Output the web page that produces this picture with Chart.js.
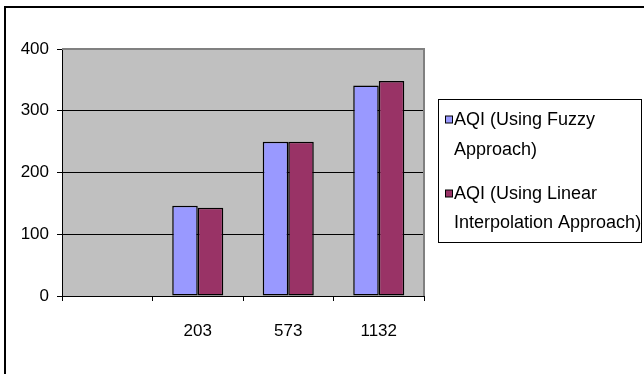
<!DOCTYPE html>
<html>
<head>
<meta charset="utf-8">
<script src="https://cdn.jsdelivr.net/npm/chart.js@4/dist/chart.umd.min.js"></script>
<style>
  html, body { margin: 0; padding: 0; background: #fff; }
  #wrap { position: relative; width: 644px; height: 374px; }
</style>
</head>
<body>
<div id="wrap"><canvas id="c" width="644" height="374"></canvas></div>
<script>
const categories = ['', '203', '573', '1132'];
const fuzzyAQI = [null, 146, 250, 341];
const linearAQI = [null, 143, 250, 348];
const seriesNames = ['AQI (Using Fuzzy Approach)', 'AQI (Using Linear Interpolation Approach)'];
const legendLines = [['AQI (Using Fuzzy', 'Approach)'], ['AQI (Using Linear', 'Interpolation Approach)']];
const yMin = 0, yMax = 400, yStep = 100;

const FONT = "'Liberation Sans', Arial, sans-serif";

const decor = {
  id: 'decor',
  beforeDraw(chart) {
    const { ctx, chartArea: a } = chart;
    ctx.save();
    ctx.fillStyle = '#fff';
    ctx.fillRect(0, 0, chart.width, chart.height);
    ctx.fillStyle = '#C0C0C0';
    ctx.fillRect(a.left, a.top, a.right - a.left, a.bottom - a.top);
    ctx.restore();
  },
  afterDraw(chart) {
    const { ctx, chartArea: a } = chart;
    ctx.save();
    ctx.strokeStyle = '#808080';
    ctx.lineWidth = 2;
    ctx.beginPath();
    ctx.moveTo(a.left, a.top);
    ctx.lineTo(a.right, a.top);
    ctx.lineTo(a.right, a.bottom);
    ctx.stroke();
    ctx.strokeStyle = '#000';
    ctx.lineWidth = 2;
    ctx.strokeRect(5, 7, 800, 500);
    const bx = 438.5, by = 99.5, bw = 203, bh = 143;
    ctx.fillStyle = '#fff';
    ctx.fillRect(bx, by, bw, bh);
    ctx.strokeStyle = '#000';
    ctx.lineWidth = 1;
    ctx.strokeRect(bx, by, bw, bh);
    const baselines = [[125, 155], [199, 228]];
    ctx.font = '18px ' + FONT;
    ctx.textBaseline = 'alphabetic';
    ctx.textAlign = 'left';
    chart.data.datasets.forEach((ds, i) => {
      const lines = legendLines[i];
      ctx.fillStyle = ds.backgroundColor;
      const my = baselines[i][0] - 9;
      ctx.fillRect(445.5, my, 7, 7);
      ctx.strokeStyle = '#000';
      ctx.strokeRect(445.5, my, 7, 7);
      ctx.fillStyle = '#000';
      lines.forEach((t, j) => ctx.fillText(t, 454, baselines[i][j]));
    });
    ctx.restore();
  }
};

new Chart(document.getElementById('c'), {
  type: 'bar',
  data: {
    labels: categories,
    datasets: [
      { label: seriesNames[0], data: fuzzyAQI, backgroundColor: '#9999FF', borderColor: '#000', borderWidth: 1.5, borderSkipped: false, categoryPercentage: 0.564, barPercentage: 1 },
      { label: seriesNames[1], data: linearAQI, backgroundColor: '#993366', borderColor: '#000', borderWidth: 1.5, borderSkipped: false, categoryPercentage: 0.564, barPercentage: 1 }
    ]
  },
  options: {
    responsive: false,
    animation: false,
    devicePixelRatio: 1,
    layout: { padding: { top: 49, right: 220, bottom: 0, left: 0 } },
    plugins: { legend: { display: false }, tooltip: { enabled: false } },
    scales: {
      x: {
        grid: { display: true, drawOnChartArea: false, drawTicks: true, tickLength: 5, color: '#000', offset: true },
        border: { color: '#000', width: 1 },
        ticks: { color: '#000', font: { family: FONT, size: 17 }, padding: 20, maxRotation: 0, autoSkip: false },
        afterFit(s) { s.height = 78; }
      },
      y: {
        min: yMin, max: yMax,
        grid: { color: '#000', tickLength: 5, drawTicks: true },
        border: { color: '#000', width: 1 },
        ticks: { stepSize: yStep, color: '#000', font: { family: FONT, size: 17 }, padding: 8 },
        afterFit(s) { s.width = 62; }
      }
    }
  },
  plugins: [decor]
});
</script>
</body>
</html>
